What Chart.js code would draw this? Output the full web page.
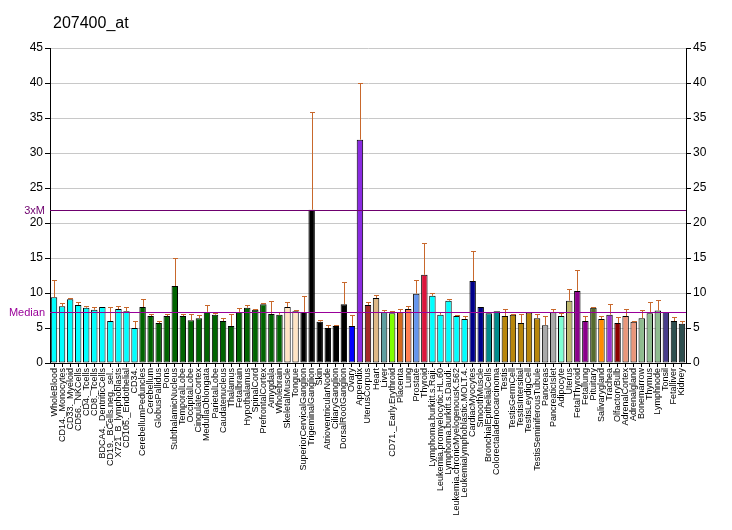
<!DOCTYPE html>
<html>
<head>
<meta charset="utf-8">
<script src="https://cdn.jsdelivr.net/npm/chart.js@4.4.1/dist/chart.umd.min.js"></script>
<style>
  body { margin: 0; background: #fff; }
  canvas { display: block; }
</style>
</head>
<body>
<canvas id="exprChart" width="732" height="530"></canvas>
<script>
const labels = [
  "WholeBlood", "CD14._Monocytes", "CD33._Myeloid", "CD56._NKCells", "CD4._Tcells",
  "CD8._Tcells", "BDCA4._DentriticCells", "CD19._BCells.neg._sel..", "X721_B_lymphoblasts",
  "CD105._Endothelial", "CD34.", "CerebellumPeduncles", "Cerebellum", "GlobusPallidus",
  "Pons", "SubthalamicNucleus", "TemporalLobe", "OccipitalLobe", "CingulateCortex",
  "MedullaOblongata", "ParietalLobe", "Caudatenucleus", "Thalamus", "Fetalbrain",
  "Hypothalamus", "SpinalCord", "PrefrontalCortex", "Amygdala", "Wholebrain",
  "SkeletalMuscle", "Tongue", "SuperiorCervicalGanglion", "TrigeminalGanglion", "Skin",
  "AtrioventricularNode", "CiliaryGanglion", "DorsalRootGanglion", "Ovary", "Appendix",
  "UterusCorpus", "Heart", "Liver", "CD71._Early.Erythroid", "Placenta", "Lung",
  "Prostate", "Thyroid", "Lymphoma.burkitt.s.Raji.", "Leukemia.promyelocytic.HL.60",
  "Lymphoma.burkitt.s.Daudi.", "Leukemia.chronicMyelogenousK.562",
  "Leukemialymphoblastic.MOLT.4.", "CardiacMyocytes", "SmoothMuscle",
  "BronchialEpithelialCells", "Colorectaladenocarcinoma", "Testis", "TestisGermCell",
  "TestisIntersitial", "TestisLeydigCell", "TestisSeminiferousTubule", "Pancreas",
  "PancreaticIslet", "Adipocyte", "Uterus", "FetalThyroid", "Fetallung", "Pituitary",
  "Salivarygland", "Trachea", "OlfactoryBulb", "AdrenalCortex", "Adrenalgland",
  "Bonemarrow", "Thymus", "Lymphnode", "Tonsil", "Fetalliver", "Kidney"
];

const values = [
  9.4, 8.1, 9.1, 8.3, 7.9, 7.6, 8.0, 6.0, 7.7, 7.4, 5.0,
  8.0, 6.7, 5.7, 6.7, 11.0, 6.7, 6.1, 6.4, 7.3, 6.9, 6.0, 5.3, 7.3, 7.9, 7.6, 8.4, 7.0, 6.9,
  8.0, 7.4,
  7.3, 21.9, 5.9, 5.0, 5.3, 8.4,
  5.3, 31.9, 8.3, 9.3, 7.3, 7.1, 7.3, 7.7, 9.9, 12.6,
  9.6, 6.9, 8.9, 6.7, 6.3,
  11.7, 8.0, 7.1, 7.4,
  6.7, 6.9, 5.7, 7.2, 6.4,
  5.4, 7.3, 6.7, 8.9, 10.3, 6.0, 7.9, 6.3, 6.9, 5.7, 6.7, 5.9, 6.4, 7.1, 7.5, 7.3, 6.0, 5.6
];

// upper end of each error bar
const errorTops = [
  11.9, 8.6, 9.3, 8.7, 8.1, 8.0, 8.0, 8.0, 8.1, 8.0, 6.0,
  9.1, 7.0, 6.0, 7.0, 15.0, 7.0, 7.0, 6.9, 8.3, 7.1, 6.4, 7.0, 7.9, 8.3, 7.7, 8.6, 8.9, 7.3,
  8.7, 7.6,
  9.6, 35.8, 6.1, 5.4, 5.4, 11.6,
  6.9, 40.0, 8.7, 9.7, 7.6, 7.4, 7.7, 8.1, 11.9, 17.1,
  10.0, 7.3, 9.1, 6.9, 6.7,
  16.0, 8.0, 7.1, 7.4,
  7.7, 7.0, 7.0, 7.2, 7.0,
  6.7, 7.7, 7.2, 10.6, 13.3, 6.7, 8.0, 6.7, 8.4, 6.6, 7.7, 6.0, 7.6, 8.7, 9.0, 7.3, 6.6, 6.0
];

const yTicks = [0, 5, 10, 15, 20, 25, 30, 35, 40, 45];
const median = 7.3;
const threeXM = 21.9;

const barColors = [].concat(
  Array(11).fill("#00FFFF"),
  Array(18).fill("#006400"),
  Array(2).fill("#FFE4C4"),
  Array(6).fill("#000000"),
  ["#0000FF", "#8A2BE2", "#A52A2A", "#DEB887", "#5F9EA0", "#7FFF00", "#D2691E",
   "#FF7F50", "#6495ED", "#DC143C"],
  Array(5).fill("#00FFFF"),
  ["#00008B", "#00008B", "#008B8B", "#008B8B"],
  Array(5).fill("#B8860B"),
  ["#A9A9A9", "#A9A9A9", "#7FFFD4", "#BDB76B", "#8B008B", "#8B008B", "#556B2F",
   "#FF8C00", "#9932CC", "#8B0000", "#E9967A", "#E9967A", "#8FBC8F", "#8FBC8F",
   "#8FBC8F", "#483D8B", "#2F4F4F", "#2F4F4F"]
);

const FONT = "'Liberation Sans', Arial, sans-serif";

// error bars, reference lines and title
const overlayPlugin = {
  id: "overlay",
  afterDatasetsDraw(chart) {
    const c = chart.ctx;
    const x = chart.scales.x;
    const y = chart.scales.y;
    const area = chart.chartArea;

    c.save();
    c.strokeStyle = "#C8682C";
    c.lineWidth = 1;
    errorTops.forEach(function (top, i) {
      if (top <= values[i]) return;
      const px = Math.round(x.getPixelForValue(i)) + 0.5;
      const y0 = y.getPixelForValue(values[i]);
      const y1 = Math.round(y.getPixelForValue(top)) + 0.5;
      c.beginPath();
      c.moveTo(px, y0);
      c.lineTo(px, y1);
      c.moveTo(px - 2.5, y1);
      c.lineTo(px + 2.5, y1);
      c.stroke();
    });

    const lines = [
      { v: threeXM, text: "3xM", color: "#6E006E" },
      { v: median, text: "Median", color: "#990099" },
    ];
    c.font = "11px " + FONT;
    c.textAlign = "right";
    c.textBaseline = "middle";
    lines.forEach(function (l) {
      const py = Math.round(y.getPixelForValue(l.v)) + 0.5;
      c.strokeStyle = l.color;
      c.beginPath();
      c.moveTo(area.left, py);
      c.lineTo(area.right, py);
      c.stroke();
      c.fillStyle = l.color;
      c.fillText(l.text, area.left - 5, py);
    });

    c.fillStyle = "#000";
    c.font = "16px " + FONT;
    c.textAlign = "left";
    c.textBaseline = "alphabetic";
    c.fillText("207400_at", 53, 28);
    c.restore();
  },
};

const yTickOpts = {
  font: { size: 12, family: FONT },
  color: "#000",
  padding: 2,
  autoSkip: false,
  stepSize: 5,
};

new Chart(document.getElementById("exprChart"), {
  type: "bar",
  data: {
    labels: labels,
    datasets: [
      {
        data: values,
        backgroundColor: barColors,
        borderColor: "#000",
        borderWidth: 1,
        borderSkipped: false,
        categoryPercentage: 1.0,
        barPercentage: 0.8,
      },
    ],
  },
  options: {
    responsive: false,
    animation: false,
    maintainAspectRatio: false,
    layout: { padding: { top: 48, left: 0, right: 0, bottom: 0 } },
    plugins: {
      legend: { display: false },
      tooltip: { enabled: false },
      title: { display: false },
    },
    scales: {
      x: {
        offset: true,
        grid: {
          display: true,
          drawOnChartArea: false,
          offset: false,
          tickLength: 4,
          tickColor: "#000",
        },
        border: { color: "#000" },
        ticks: {
          autoSkip: false,
          minRotation: 90,
          maxRotation: 90,
          padding: 1,
          color: "#000",
          font: { size: 9, family: FONT },
        },
        afterFit: function (scale) {
          scale.height = 167;
        },
      },
      y: {
        min: 0,
        max: 45,
        position: "left",
        grid: { color: "#C8C8C8", tickLength: 5, tickColor: "#000" },
        border: { color: "#000" },
        ticks: yTickOpts,
        afterBuildTicks: function (scale) {
          scale.ticks = yTicks.map(function (v) { return { value: v }; });
        },
        afterFit: function (scale) {
          scale.width = 50;
        },
      },
      y2: {
        min: 0,
        max: 45,
        position: "right",
        grid: { drawOnChartArea: false, tickLength: 5, tickColor: "#000" },
        border: { color: "#000" },
        ticks: yTickOpts,
        afterBuildTicks: function (scale) {
          scale.ticks = yTicks.map(function (v) { return { value: v }; });
        },
        afterFit: function (scale) {
          scale.width = 46;
        },
      },
    },
  },
  plugins: [overlayPlugin],
});
</script>
</body>
</html>
